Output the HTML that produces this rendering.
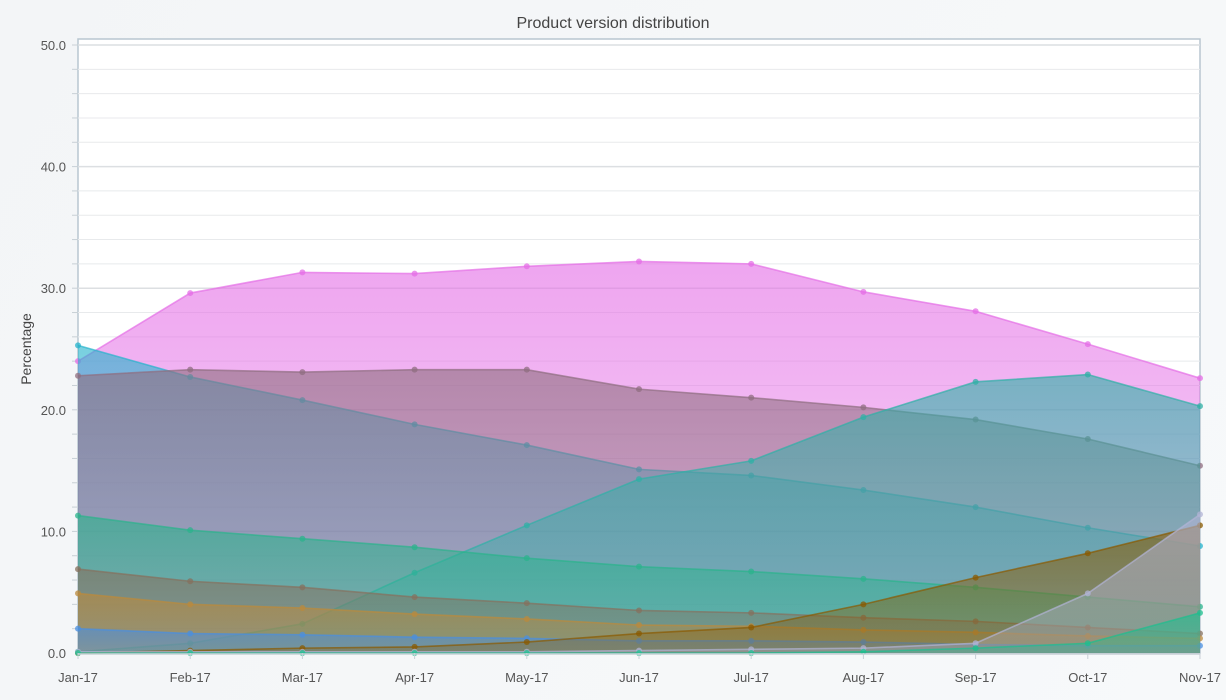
<!DOCTYPE html>
<html><head><meta charset="utf-8"><style>
html,body{margin:0;padding:0;width:1226px;height:700px;overflow:hidden;background:linear-gradient(120deg,#f3f5f7,#f7f9fa);font-family:"Liberation Sans",sans-serif}
svg text{font-family:"Liberation Sans",sans-serif}
</style></head><body>
<svg id="chart" width="1226" height="700" xmlns="http://www.w3.org/2000/svg">
<defs id="defs"></defs>
<text x="613" y="28" text-anchor="middle" font-size="16" fill="#444">Product version distribution</text>
<text transform="translate(31,349) rotate(-90)" text-anchor="middle" font-size="14" fill="#444">Percentage</text>
<rect x="78" y="39" width="1122" height="614" fill="#fff" stroke="#b8c6d0" stroke-width="1.5"/>
<g id="grid"></g><g id="series"></g><g id="axes"></g>
</svg>
<script>
const categories=["Jan-17","Feb-17","Mar-17","Apr-17","May-17","Jun-17","Jul-17","Aug-17","Sep-17","Oct-17","Nov-17"];
const yTicks=[0,10,20,30,40,50];
const seriesColors=["#e46ee6","#26b3cc","#8f6e80","#2fb0a6","#2bb38c","#86705e","#bb8a3c","#4a8fe0","#8a5a00","#b2b4d6","#1cbf8e"];
const sPink=[24.0,29.6,31.3,31.2,31.8,32.2,32.0,29.7,28.1,25.4,22.6];
const sCyan=[25.3,22.7,20.8,18.8,17.1,15.1,14.6,13.4,12.0,10.3,8.8];
const sMauve=[22.8,23.3,23.1,23.3,23.3,21.7,21.0,20.2,19.2,17.6,15.4];
const sTeal=[0.1,0.8,2.4,6.6,10.5,14.3,15.8,19.4,22.3,22.9,20.3];
const sGreen=[11.3,10.1,9.4,8.7,7.8,7.1,6.7,6.1,5.4,4.6,3.8];
const sGrayBrown=[6.9,5.9,5.4,4.6,4.1,3.5,3.3,2.9,2.6,2.1,1.6];
const sTan=[4.9,4.0,3.7,3.2,2.8,2.3,2.2,1.9,1.7,1.4,1.2];
const sBlue=[2.0,1.6,1.5,1.3,1.2,1.0,1.0,0.9,0.7,0.6,0.6];
const sBrown=[0.0,0.2,0.4,0.5,0.9,1.6,2.1,4.0,6.2,8.2,10.5];
const sLavender=[0.1,0.1,0.1,0.1,0.1,0.2,0.3,0.4,0.8,4.9,11.4];
const sMint=[0.0,0.0,0.0,0.0,0.0,0.0,0.0,0.1,0.4,0.8,3.3];
const seriesList=[sPink,sCyan,sMauve,sTeal,sGreen,sGrayBrown,sTan,sBlue,sBrown,sLavender,sMint];
const seriesNames=["pink","cyan","mauve","teal","green","gray-brown","tan","blue","brown","lavender","mint"];
const X0=78,X1=1200,Y0=653,Y1=45,YMAX=50;
const xs=i=>X0+(X1-X0)*i/(categories.length-1);
const ys=v=>Y0-(Y0-Y1)*v/YMAX;
const NS="http://www.w3.org/2000/svg";
function mk(t,a){const e=document.createElementNS(NS,t);for(const k in a)e.setAttribute(k,a[k]);return e;}
const grid=document.getElementById('grid'),ax=document.getElementById('axes'),sg=document.getElementById('series'),defs=document.getElementById('defs');
for(let v=2;v<=YMAX;v+=2){const l=mk('line',{x1:X0,x2:X1,y1:ys(v),y2:ys(v),stroke:v%10===0?'#dcdfe2':'#e8eaec','stroke-width':v%10===0?1.5:1});


grid.appendChild(l);
const tk=mk('line',{x1:X0-6,x2:X0,y1:ys(v),y2:ys(v),stroke:'#c8d0d6'});grid.appendChild(tk);}
yTicks.forEach(v=>{const t=mk('text',{x:X0-12,y:ys(v)+5,'text-anchor':'end','font-size':13,fill:'#555'});t.textContent=v.toFixed(1);


ax.appendChild(t);});
categories.forEach((c,i)=>{const t=mk('text',{x:xs(i),y:682,'text-anchor':'middle','font-size':13,fill:'#555'});t.textContent=c;


ax.appendChild(t);
ax.appendChild(mk('line',{x1:xs(i),x2:xs(i),y1:Y0,y2:Y0+6,stroke:'#c8d0d6'}));});
ax.appendChild(mk('line',{x1:X0,x2:X1,y1:Y0+1,y2:Y0+1,stroke:'#c8d0d6','stroke-width':1.5}));
seriesList.forEach((s,k)=>{const col=seriesColors[k];
const g=mk('linearGradient',{id:'g'+k,gradientUnits:'userSpaceOnUse',x1:0,y1:ys(Math.max(...s)),x2:0,y2:Y0});
g.appendChild(mk('stop',{offset:'0','stop-color':col,'stop-opacity':0.62}));
g.appendChild(mk('stop',{offset:'1','stop-color':col,'stop-opacity':0.3}));defs.appendChild(g);
let d='M'+xs(0)+','+Y0;s.forEach((v,i)=>d+=' L'+xs(i)+','+ys(v));d+=' L'+xs(s.length-1)+','+Y0+' Z';
const grp=mk('g',{});


const a=mk('path',{d:d,fill:'url(#g'+k+')'});


grp.appendChild(a);
const l=mk('polyline',{points:s.map((v,i)=>xs(i)+','+ys(v)).join(' '),fill:'none',stroke:col,'stroke-width':1.6,'stroke-opacity':0.7});grp.appendChild(l);
s.forEach((v,i)=>{const c=mk('circle',{cx:xs(i),cy:ys(v),r:3,fill:col,'fill-opacity':0.75});


grp.appendChild(c);});
sg.appendChild(grp);});
</script>
</body></html>
